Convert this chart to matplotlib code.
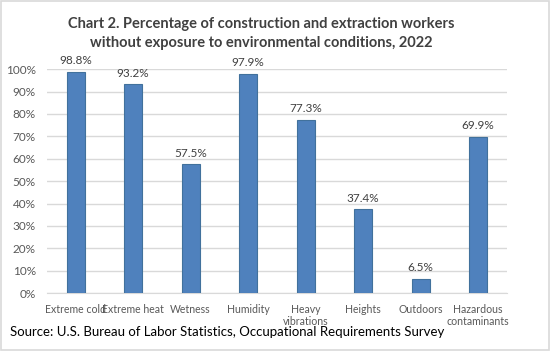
import matplotlib.pyplot as plt
from matplotlib.patches import Rectangle
from matplotlib.ticker import PercentFormatter

plt.rcParams['font.family'] = ['Lato', 'DejaVu Sans']

categories = ['Extreme cold', 'Extreme heat', 'Wetness', 'Humidity',
              'Heavy\nvibrations', 'Heights', 'Outdoors', 'Hazardous\ncontaminants']
values = [98.8, 93.2, 57.5, 97.9, 77.3, 37.4, 6.5, 69.9]

fig = plt.figure(figsize=(5.51, 3.51), dpi=100)
ax = fig.add_axes([0.085, 0.165, 0.835, 0.638])

x = range(len(categories))
bars = ax.bar(x, values, width=0.31, color='#4F81BD', edgecolor='#41719C', linewidth=0.8, zorder=3)

# Data labels
for bar, v in zip(bars, values):
    ax.text(bar.get_x() + bar.get_width() / 2, v + 2.5, f'{v:.1f}%',
            ha='center', va='bottom', fontsize=8.5, color='#404040')

ax.set_xlim(-0.5, len(categories) - 0.5)
ax.set_ylim(0, 100)
ax.set_yticks(range(0, 101, 10))
ax.yaxis.set_major_formatter(PercentFormatter(decimals=0))
ax.set_xticks(list(x))
ax.set_xticklabels(categories, fontsize=7.6, color='#595959', linespacing=1.05)
ax.tick_params(axis='y', labelsize=8.5, colors='#595959', length=0, pad=8)
ax.tick_params(axis='x', length=0, pad=8)
ax.grid(axis='y', color='#D9D9D9', linewidth=1, zorder=0)
for s in ['top', 'right', 'left']:
    ax.spines[s].set_visible(False)
ax.spines['bottom'].set_color('#D9D9D9')

fig.text(0.474, 0.905, 'Chart 2. Percentage of construction and extraction workers\nwithout exposure to environmental conditions, 2022',
         ha='center', va='center', fontsize=10.5, fontweight='bold', color='#404040', linespacing=1.45)
fig.text(0.018, 0.054, 'Source: U.S. Bureau of Labor Statistics, Occupational Requirements Survey',
         ha='left', va='center', fontsize=9.5, color='black')

fig.patches.append(Rectangle((0.002, 0.003), 0.995, 0.994, transform=fig.transFigure,
                             fill=False, edgecolor='#D9D9D9', linewidth=1.2))

fig.savefig('out.png', dpi=100)
